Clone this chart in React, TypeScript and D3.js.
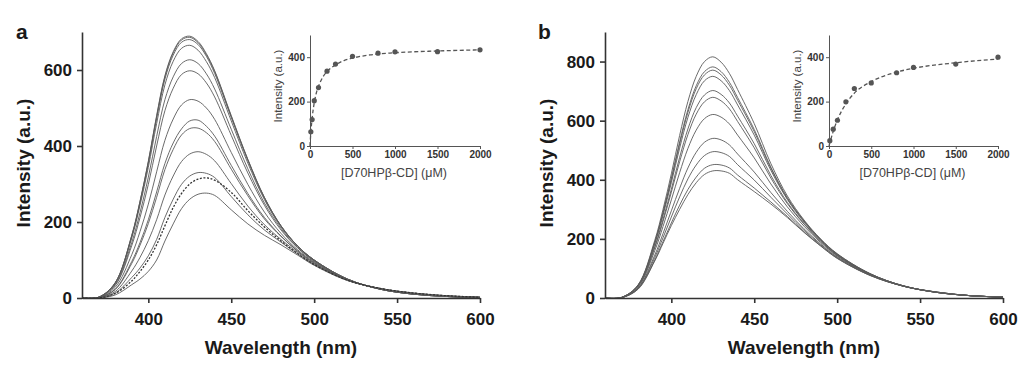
import React, { useEffect, useRef } from 'react';
import * as d3 from 'd3';

// emission wavelengths (nm) shared by every spectrum
const wavelengths = [360, 370, 380, 390, 395, 400, 405, 410, 415, 420, 425, 430, 435, 440, 450, 460, 470, 480, 490, 500, 520, 540, 560, 580, 600];

// panel a spectra, highest peak first
const specA1 = [0, 2, 40, 165, 255, 360, 480, 585, 648, 682, 689, 675, 643, 598, 480, 365, 265, 190, 137, 100, 50, 23, 10, 4, 1];
const specA2 = [0, 2, 40, 164, 254, 358, 477, 582, 645, 679, 686, 672, 640, 596, 478, 364, 264, 190, 137, 100, 50, 23, 10, 4, 1];
const specA3 = [0, 2, 39, 162, 251, 354, 472, 576, 639, 673, 680, 667, 636, 591, 475, 362, 263, 189, 137, 100, 50, 23, 10, 4, 1];
const specA4 = [0, 2, 38, 158, 244, 344, 459, 561, 623, 657, 665, 652, 622, 580, 466, 355, 259, 187, 136, 99, 50, 23, 10, 4, 1];
const specA5 = [0, 2, 35, 146, 225, 318, 425, 522, 582, 617, 627, 617, 590, 550, 444, 340, 250, 183, 133, 98, 49, 23, 10, 4, 1];
const specA6 = [0, 2, 33, 138, 212, 299, 400, 493, 552, 588, 598, 590, 566, 529, 428, 329, 244, 179, 132, 97, 49, 24, 11, 4, 1];
const specA7 = [0, 1, 28, 114, 175, 247, 332, 415, 471, 508, 522, 518, 500, 470, 383, 299, 226, 170, 127, 95, 48, 24, 11, 5, 1];
const specA8 = [0, 1, 23, 96, 146, 206, 279, 354, 408, 445, 466, 468, 452, 426, 349, 275, 212, 163, 124, 93, 48, 24, 12, 5, 2];
const specA9 = [0, 1, 22, 91, 139, 196, 265, 338, 391, 429, 446, 447, 435, 412, 339, 269, 208, 162, 123, 92, 48, 24, 12, 5, 2];
const specA10 = [0, 1, 17, 71, 107, 151, 206, 271, 321, 359, 379, 385, 378, 361, 301, 242, 193, 154, 120, 90, 47, 25, 12, 5, 2];
const specA11 = [0, 0, 13, 54, 79, 111, 154, 212, 260, 299, 321, 330, 328, 317, 267, 219, 179, 147, 116, 88, 47, 25, 13, 6, 2];
const specA12 = [0, 0, 8, 35, 50, 70, 100, 150, 195, 235, 260, 273, 276, 270, 232, 195, 165, 140, 113, 86, 46, 25, 13, 6, 2];
// the dotted spectrum in panel a
const specADotted = [0, 0, 12, 45, 70, 100, 140, 190, 238, 275, 300, 313, 316, 310, 278, 230, 187, 150, 117, 88, 47, 25, 13, 6, 2];

// panel b spectra
const specB1 = [0, 2, 45, 195, 300, 420, 550, 665, 750, 800, 816, 798, 760, 705, 590, 455, 345, 264, 200, 150, 82, 41, 19, 8, 3];
const specB2 = [0, 2, 44, 189, 290, 405, 528, 637, 718, 766, 782, 766, 730, 678, 570, 443, 339, 261, 198, 149, 82, 41, 19, 8, 3];
const specB3 = [0, 2, 43, 187, 287, 400, 521, 628, 708, 755, 771, 755, 720, 669, 563, 439, 336, 260, 198, 148, 81, 41, 19, 8, 3];
const specB4 = [0, 2, 42, 183, 280, 390, 507, 611, 688, 735, 750, 735, 702, 653, 551, 432, 333, 257, 196, 147, 81, 41, 19, 8, 3];
const specB5 = [0, 2, 41, 174, 266, 368, 476, 572, 644, 687, 702, 689, 660, 615, 522, 415, 323, 252, 193, 145, 80, 40, 19, 8, 3];
const specB6 = [0, 2, 40, 170, 259, 358, 461, 553, 622, 664, 679, 667, 640, 597, 508, 406, 319, 250, 192, 144, 80, 40, 19, 8, 3];
const specB7 = [0, 1, 37, 160, 242, 332, 424, 506, 568, 607, 621, 612, 589, 551, 474, 386, 308, 243, 188, 142, 79, 40, 19, 8, 3];
const specB8 = [0, 1, 34, 145, 218, 295, 371, 440, 493, 527, 540, 535, 518, 487, 426, 357, 293, 234, 183, 139, 78, 40, 20, 8, 3];
const specB9 = [0, 1, 33, 137, 204, 274, 342, 403, 450, 482, 495, 492, 479, 451, 399, 341, 284, 229, 180, 137, 77, 40, 20, 8, 3];
const specB10 = [0, 1, 31, 129, 191, 254, 314, 367, 409, 439, 451, 450, 440, 416, 372, 325, 276, 224, 177, 135, 76, 40, 20, 8, 3];
const specB11 = [0, 1, 30, 125, 185, 245, 300, 350, 390, 418, 430, 430, 422, 400, 360, 318, 272, 222, 176, 134, 76, 40, 20, 8, 3];

// insets: titration points and fitted curve
const concA = [10, 25, 50, 100, 200, 300, 500, 800, 1000, 1500, 2000];
const intensA = [64, 119, 204, 263, 337, 369, 404, 418, 424, 425, 433];
const fitConcA = [0, 10, 25, 50, 75, 100, 150, 200, 300, 400, 500, 700, 1000, 1500, 2000];
const fitA = [0, 62, 125, 195, 240, 268, 310, 335, 365, 385, 396, 410, 420, 428, 433];

const concB = [10, 50, 100, 200, 300, 500, 800, 1000, 1500, 2000];
const intensB = [24, 76, 116, 199, 259, 284, 330, 354, 369, 400];
const fitConcB = [0, 10, 50, 100, 200, 300, 500, 800, 1000, 1500, 2000];
const fitB = [0, 14, 66, 118, 190, 238, 290, 333, 350, 375, 392];

const xTicksMain = [400, 450, 500, 550, 600];
const yTicksA = [0, 200, 400, 600];
const yTicksB = [0, 200, 400, 600, 800];
const insetXTicks = [0, 500, 1000, 1500, 2000];
const insetYTicks = [0, 200, 400];

const FONT = "'Liberation Sans', Arial, sans-serif";

function drawPanel(svg, p) {
    const x = d3.scaleLinear().domain([360, 600]).range([p.left, p.right]);
    const y = d3.scaleLinear().domain([0, p.yMax]).range([298, 32]);
    const g = svg.append('g');

    const line = d3.line()
        .x((d, i) => x(wavelengths[i]))
        .y(d => y(d))
        .curve(d3.curveCatmullRom.alpha(0.5));

    g.selectAll('path.spec')
        .data(p.spectra)
        .enter()
        .append('path')
        .attr('class', 'spec')
        .attr('d', d => line(d))
        .attr('fill', 'none')
        .attr('stroke', '#5a5a5a')
        .attr('stroke-width', 0.9);

    if (p.dotted) {
        g.append('path')
            .attr('d', line(p.dotted))
            .attr('fill', 'none')
            .attr('stroke', '#333')
            .attr('stroke-width', 1.3)
            .attr('stroke-dasharray', '2,1.6');
    }

    const xAxis = g.append('g')
        .attr('transform', 'translate(0,298)')
        .call(d3.axisBottom(x).tickValues(xTicksMain).tickSize(5).tickSizeOuter(0).tickPadding(10));
    const yAxis = g.append('g')
        .attr('transform', `translate(${p.left},0)`)
        .call(d3.axisLeft(y).tickValues(p.yTicks).tickSize(5).tickSizeOuter(0).tickPadding(5));

    [xAxis, yAxis].forEach(a => {
        a.select('.domain').attr('stroke', '#333').attr('stroke-width', 1.6);
        a.selectAll('.tick line').attr('stroke', '#333').attr('stroke-width', 1.6);
        a.selectAll('text')
            .attr('fill', '#1a1a1a')
            .attr('font-family', FONT)
            .attr('font-weight', 'bold')
            .attr('font-size', 17);
    });

    g.append('text')
        .attr('x', (p.left + p.right) / 2)
        .attr('y', 354)
        .attr('text-anchor', 'middle')
        .attr('font-family', FONT)
        .attr('font-weight', 'bold')
        .attr('font-size', 19)
        .attr('fill', '#1a1a1a')
        .text('Wavelength (nm)');

    g.append('text')
        .attr('transform', `translate(${p.titleX},163) rotate(-90)`)
        .attr('text-anchor', 'middle')
        .attr('font-family', FONT)
        .attr('font-weight', 'bold')
        .attr('font-size', 19)
        .attr('fill', '#1a1a1a')
        .text('Intensity (a.u.)');

    g.append('text')
        .attr('x', p.labelX)
        .attr('y', 39)
        .attr('font-family', FONT)
        .attr('font-weight', 'bold')
        .attr('font-size', 21)
        .attr('fill', '#1a1a1a')
        .text(p.label);

    drawInset(g, p.inset);
}

function drawInset(g, s) {
    const x = d3.scaleLinear().domain([0, 2000]).range([s.left, s.right]);
    const y = d3.scaleLinear().domain([0, 500]).range([146, 35]);

    const fitLine = d3.line()
        .x((d, i) => x(s.fitConc[i]))
        .y(d => y(d))
        .curve(d3.curveMonotoneX);

    g.append('path')
        .attr('d', fitLine(s.fit))
        .attr('fill', 'none')
        .attr('stroke', '#555')
        .attr('stroke-width', 1.3)
        .attr('stroke-dasharray', '4,2.5');

    g.selectAll('circle.pt' + s.key)
        .data(s.intens)
        .enter()
        .append('circle')
        .attr('class', 'pt' + s.key)
        .attr('cx', (d, i) => x(s.conc[i]))
        .attr('cy', d => y(d))
        .attr('r', 2.6)
        .attr('fill', '#555');

    const xAxis = g.append('g')
        .attr('transform', 'translate(0,146)')
        .call(d3.axisBottom(x).tickValues(insetXTicks).tickFormat(d3.format('d')).tickSize(3).tickSizeOuter(0).tickPadding(2));
    const yAxis = g.append('g')
        .attr('transform', `translate(${s.left},0)`)
        .call(d3.axisLeft(y).tickValues(insetYTicks).tickFormat(d3.format('d')).tickSize(3).tickSizeOuter(0).tickPadding(2));

    [xAxis, yAxis].forEach(a => {
        a.select('.domain').attr('stroke', '#555').attr('stroke-width', 1);
        a.selectAll('.tick line').attr('stroke', '#555').attr('stroke-width', 1);
        a.selectAll('text')
            .attr('fill', '#333')
            .attr('font-family', FONT)
            .attr('font-weight', 'bold')
            .attr('font-size', 10);
    });

    g.append('text')
        .attr('x', (s.left + s.right) / 2 - 1)
        .attr('y', 177)
        .attr('text-anchor', 'middle')
        .attr('font-family', FONT)
        .attr('font-size', 12.5)
        .attr('fill', '#444')
        .text('[D70HPβ-CD] (μM)');

    g.append('text')
        .attr('transform', `translate(${s.left - 28},86) rotate(-90)`)
        .attr('text-anchor', 'middle')
        .attr('font-family', FONT)
        .attr('font-size', 11.5)
        .attr('fill', '#444')
        .text('Intensity (a.u.)');
}

export default function App() {
    const ref = useRef(null);

    useEffect(() => {
        const svg = d3.select(ref.current);
        svg.selectAll('*').remove();

        drawPanel(svg, {
            left: 82, right: 480, yMax: 700, yTicks: yTicksA,
            spectra: [specA1, specA2, specA3, specA4, specA5, specA6, specA7, specA8, specA9, specA10, specA11, specA12],
            dotted: specADotted,
            label: 'a', labelX: 16, titleX: 30,
            inset: { key: 'a', left: 310, right: 480, conc: concA, intens: intensA, fitConc: fitConcA, fit: fitA },
        });

        drawPanel(svg, {
            left: 605, right: 1003, yMax: 900, yTicks: yTicksB,
            spectra: [specB1, specB2, specB3, specB4, specB5, specB6, specB7, specB8, specB9, specB10, specB11],
            dotted: null,
            label: 'b', labelX: 538, titleX: 553,
            inset: { key: 'b', left: 829, right: 998, conc: concB, intens: intensB, fitConc: fitConcB, fit: fitB },
        });
    }, []);

    return (
        <svg ref={ref} width={1024} height={373}
            style={{ position: 'absolute', left: 0, top: 0, background: '#fff' }} />
    );
}
